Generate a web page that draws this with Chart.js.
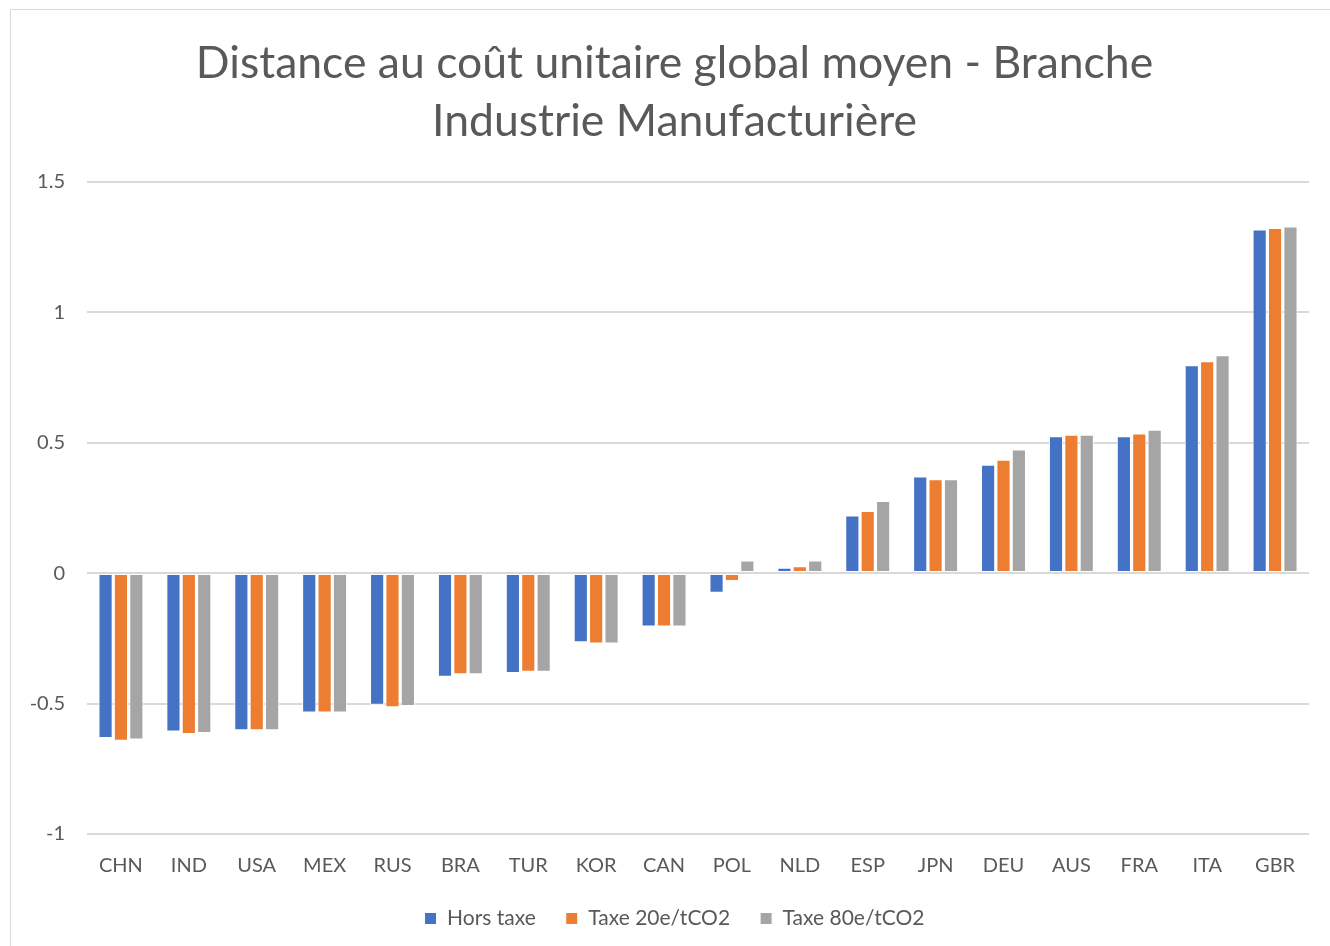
<!DOCTYPE html>
<html>
<head>
<meta charset="utf-8">
<script src="https://cdn.jsdelivr.net/npm/chart.js@4"></script>
<style>
html,body{margin:0;padding:0;background:#fff;}
#wrap{position:absolute;left:0;top:0;width:1330px;height:946px;}
#frame{position:absolute;left:10px;top:9px;width:1330px;height:960px;border:1px solid #d9d9d9;box-sizing:border-box;}
canvas{position:absolute;left:0;top:0;}
</style>
</head>
<body>
<div id="wrap">
<div id="frame"></div>
<canvas id="c" width="1330" height="946"></canvas>
</div>
<script>
const categories = ["CHN","IND","USA","MEX","RUS","BRA","TUR","KOR","CAN","POL","NLD","ESP","JPN","DEU","AUS","FRA","ITA","GBR"];
const horsTaxe = [-0.632,-0.607,-0.602,-0.534,-0.505,-0.397,-0.383,-0.265,-0.205,-0.075,0.020,0.221,0.370,0.415,0.524,0.524,0.797,1.317];
const taxe20 =   [-0.643,-0.617,-0.602,-0.534,-0.514,-0.388,-0.378,-0.270,-0.205,-0.030,0.026,0.238,0.360,0.434,0.530,0.535,0.812,1.323];
const taxe80 =   [-0.638,-0.613,-0.602,-0.534,-0.509,-0.388,-0.378,-0.270,-0.205,0.048,0.048,0.276,0.360,0.474,0.530,0.549,0.835,1.328];
const seriesNames = ["Hors taxe","Taxe 20e/tCO2","Taxe 80e/tCO2"];
const titleLines = ["Distance au coût unitaire global moyen - Branche","Industrie Manufacturière"];

const FONT = "Lato, 'Open Sans', sans-serif";
const colors = ["#4472c4","#ed7d31","#a5a5a5"];
const data = [horsTaxe, taxe20, taxe80];

// centre title and legend over the framed chart (as in the original) rather than the canvas
const shiftBoxes = {
  id: 'shiftBoxes',
  afterLayout(chart) {
    if (chart.titleBlock) chart.titleBlock.left += 40;
    if (chart.legend) chart.legend.left += 40;
  }
};

new Chart(document.getElementById('c'), {
  type: 'bar',
  data: {
    labels: categories,
    datasets: seriesNames.map((n,i)=>({
      label: n,
      data: data[i],
      backgroundColor: colors[i],
      borderColor: '#ffffff',
      borderWidth: 1,
      borderSkipped: false,
      barPercentage: 0.92,
      categoryPercentage: 0.68
    }))
  },
  plugins: [shiftBoxes],
  options: {
    responsive: false,
    animation: false,
    layout: { padding: { left: 0, right: 21, top: 35, bottom: 7 } },
    plugins: {
      title: {
        display: true,
        text: titleLines,
        color: '#595959',
        font: { family: FONT, size: 44.5, weight: '400', lineHeight: 1.3 },
        padding: { top: 0, bottom: 31 }
      },
      legend: {
        position: 'bottom',
        labels: {
          color: '#595959',
          font: { family: FONT, size: 21 },
          boxWidth: 12, boxHeight: 12,
          padding: 30
        }
      },
      tooltip: { enabled: false }
    },
    scales: {
      x: {
        afterFit: s => { s.height = s.height - 20; },
        grid: { display: false, drawTicks: false },
        border: { display: false },
        ticks: { color: '#595959', font: { family: FONT, size: 20 }, padding: 20 }
      },
      y: {
        min: -1, max: 1.5,
        afterFit: s => { s.width = 87; },
        grid: { color: '#d9d9d9', lineWidth: 2, drawTicks: false },
        border: { display: false },
        ticks: { stepSize: 0.5, color: '#595959', font: { family: FONT, size: 20 }, padding: 22,
          callback: v => String(v) }
      }
    }
  }
});
</script>
</body>
</html>
